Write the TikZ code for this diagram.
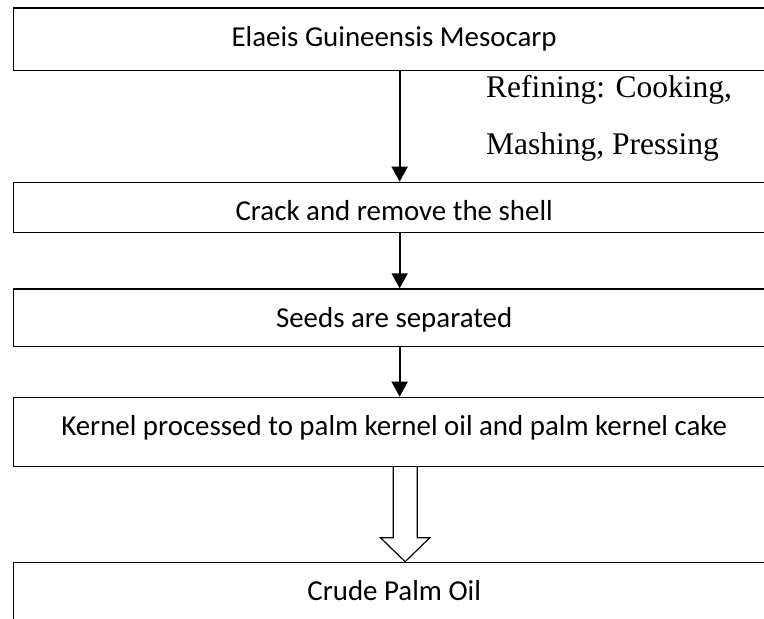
\documentclass[tikz,border=0pt]{standalone}
\usepackage{fontspec}
\setmainfont{Carlito}
\newfontfamily\timesfont{Liberation Serif}
\usetikzlibrary{arrows.meta,calc}
\tikzset{
  box/.style={draw, line width=1.3pt, minimum width=761.6pt, anchor=north west, inner sep=0pt},
  txt/.style={anchor=base, inner sep=0pt, font=\fontsize{28.9}{34}\selectfont},
  reftxt/.style={anchor=base west, inner sep=0pt, font=\timesfont\fontsize{31.5}{36}\selectfont},
  arr/.style={line width=1.8pt, -{Triangle[width=16pt,length=15pt]}},
  hollow/.style={line width=1.2pt, line join=miter}
}
\begin{document}
\begin{tikzpicture}[x=1pt,y=-1pt]
\useasboundingbox (0,0) rectangle (764,619);
\clip (0,0) rectangle (764,619);
\node[box, minimum height=62.7pt] (b1) at (12.7,7.3) {};
\node[box, minimum height=50pt] (b2) at (12.7,181.7) {};
\node[box, minimum height=57.4pt] (b3) at (12.7,288.3) {};
\node[box, minimum height=68.8pt] (b4) at (12.7,396.7) {};
\node[box, minimum height=80pt] (b5) at (12.7,561.7) {};
\node[txt] (t1) at ([yshift=-38.7pt]b1.north) {Elaeis Guineensis Mesocarp};
\node[txt] (t2) at ([yshift=-38.7pt]b2.north) {Crack and remove the shell};
\node[txt] (t3) at ([yshift=-38.7pt]b3.north) {Seeds are separated};
\node[txt] (t4) at ([yshift=-38.7pt]b4.north) {Kernel processed to palm kernel oil and palm kernel cake};
\node[txt] (t5) at ([yshift=-38.7pt]b5.north) {Crude Palm Oil};
\node[reftxt] (r1) at (486,97) {Refining: Cooking,};
\node[reftxt] (r2) at (486,154.5) {Mashing, Pressing};
\draw[arr] ([xshift=5.5pt]b1.south) -- ([xshift=5.5pt]b2.north);
\draw[arr] ([xshift=5.5pt]b2.south) -- ([xshift=5.5pt]b3.north);
\draw[arr] ([xshift=5.5pt]b3.south) -- ([xshift=5.5pt]b4.north);
\coordinate (h1) at ([xshift=11pt]b4.south);
\coordinate (h2) at ([xshift=11pt]b5.north);
\draw[hollow] ($(h1)+(-12,0)$) -- ($(h2)+(-12,-24)$) -- ($(h2)+(-24.65,-24)$) -- (h2) -- ($(h2)+(24.65,-24)$) -- ($(h2)+(12,-24)$) -- ($(h1)+(12,0)$);
\end{tikzpicture}
\end{document}
